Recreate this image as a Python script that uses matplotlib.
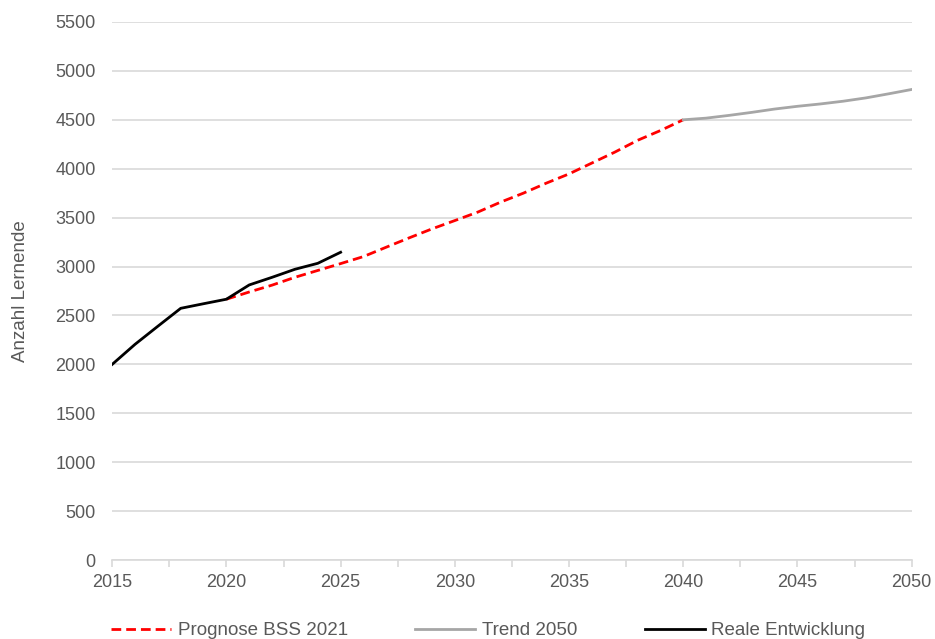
import numpy as np
import matplotlib.pyplot as plt
from matplotlib.ticker import MultipleLocator

plt.rcParams['font.family'] = ['Liberation Sans', 'DejaVu Sans']

# Reale Entwicklung
years_real = [2015, 2016, 2017, 2018, 2019, 2020, 2021, 2022, 2023, 2024, 2025]
real = [2000, 2205, 2390, 2573, 2620, 2666, 2812, 2890, 2972, 3033, 3146]

# Prognose BSS 2021
years_prog = list(range(2020, 2041))
prog = [2666, 2740, 2810, 2890, 2960, 3030, 3102, 3198, 3293, 3385, 3470,
        3556, 3658, 3750, 3852, 3947, 4058, 4169, 4290, 4390, 4500]

# Trend 2050
years_trend = list(range(2040, 2051))
trend = [4500, 4517, 4545, 4576, 4610, 4638, 4662, 4690, 4724, 4766, 4810]

grey_text = '#595959'
grid_col = '#d9d9d9'
fs = 13

fig = plt.figure(figsize=(9.35, 6.39), dpi=100)
ax = fig.add_axes([0.120, 0.1236, 0.855, 0.842])

ax.plot(years_prog, prog, color='#ff0000', lw=2.0, dashes=(3.5, 1.8),
        label='Prognose BSS 2021', zorder=3)
ax.plot(years_trend, trend, color='#a6a6a6', lw=2.0, label='Trend 2050', zorder=3)
ax.plot(years_real, real, color='black', lw=2.0, label='Reale Entwicklung', zorder=4)

ax.set_xlim(2015, 2050)
ax.set_ylim(0, 5500)
ax.yaxis.set_major_locator(MultipleLocator(500))
ax.xaxis.set_major_locator(MultipleLocator(5))
ax.xaxis.set_minor_locator(MultipleLocator(2.5))

ax.grid(axis='y', color=grid_col, lw=1.2)
ax.set_axisbelow(True)
for s in ['top', 'right', 'left']:
    ax.spines[s].set_visible(False)
ax.spines['bottom'].set_color(grid_col)
ax.spines['bottom'].set_linewidth(1.2)

ax.tick_params(axis='y', length=0, pad=12, labelsize=fs, labelcolor=grey_text)
ax.tick_params(axis='x', which='both', length=5, width=1.2, color=grid_col,
               pad=5, labelsize=fs, labelcolor=grey_text)

ax.set_ylabel('Anzahl Lernende', fontsize=13.5, color=grey_text, labelpad=19)

fig.legend(loc='center', bbox_to_anchor=(0.522, 0.013), ncol=3, frameon=False,
           fontsize=13.5, labelcolor=grey_text, handlelength=3.2,
           columnspacing=3.6, handletextpad=0.35)

fig.savefig('out.png', dpi=100)
